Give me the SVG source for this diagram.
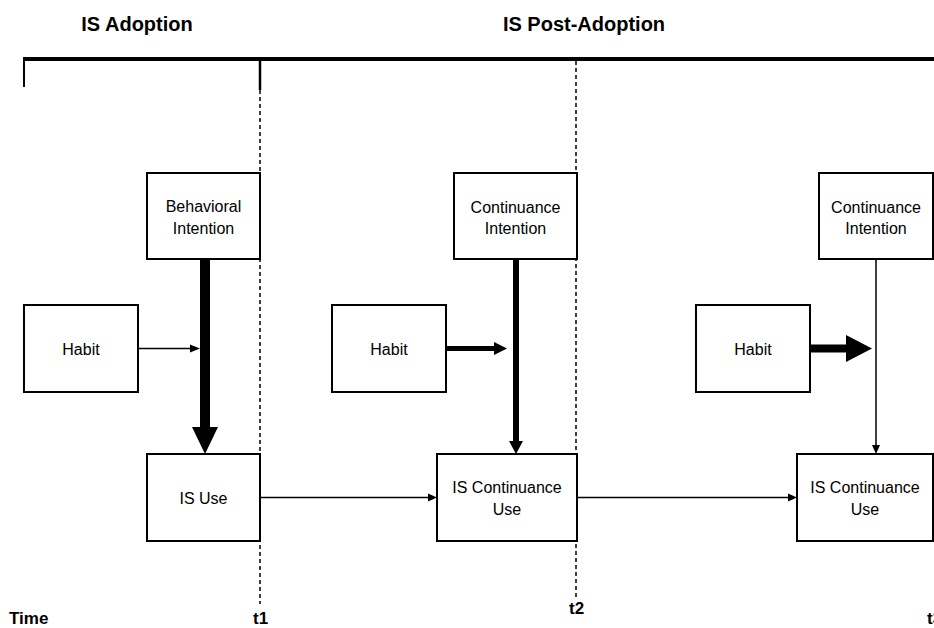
<svg xmlns="http://www.w3.org/2000/svg" width="934" height="628" viewBox="0 0 934 628">
<style>
.box{fill:#fff;stroke:#000;stroke-width:2}
.lbl{font-family:"Liberation Sans",Arial,sans-serif;font-size:16px;fill:#000;text-anchor:middle}
.ttl{font-family:"Liberation Sans",Arial,sans-serif;font-size:20px;font-weight:bold;fill:#000;text-anchor:middle}
.tm{font-family:"Liberation Sans",Arial,sans-serif;font-size:17px;font-weight:bold;fill:#000}
.dash{stroke:#000;stroke-width:1.5;stroke-dasharray:4 3;fill:none}
.thin{stroke:#000;stroke-width:1.5;fill:none}
</style>
<g id="timeline">
<text class="ttl" x="137" y="31">IS Adoption</text>
<text class="ttl" x="584" y="31">IS Post-Adoption</text>
<line x1="23" y1="59" x2="934" y2="59" stroke="#000" stroke-width="4"/>
<line x1="24" y1="59" x2="24" y2="87" stroke="#000" stroke-width="2"/>
<line x1="260" y1="59" x2="260" y2="90" stroke="#000" stroke-width="2.5"/>
<line class="dash" x1="260" y1="90" x2="260" y2="604"/>
<line class="dash" x1="576" y1="61" x2="576" y2="600"/>
<text class="tm" x="9" y="624">Time</text>
<text class="tm" x="253" y="624">t1</text>
<text class="tm" x="569" y="614">t2</text>
<text class="tm" x="927" y="624">t3</text>
</g>
<g id="connectors">
<rect x="200" y="259" width="10" height="169"/>
<polygon points="192,427 218,427 205,454"/>
<line class="thin" x1="138" y1="348.5" x2="191" y2="348.5"/>
<polygon points="190,344.5 200,348.5 190,352.5"/>
<rect x="513" y="259" width="6" height="183"/>
<polygon points="509,441 523,441 516,454"/>
<rect x="446" y="346" width="49" height="5"/>
<polygon points="494,342 507,348.5 494,355"/>
<line class="thin" x1="876" y1="259" x2="876" y2="446"/>
<polygon points="872,445 880,445 876,454"/>
<rect x="810" y="344.5" width="37" height="8"/>
<polygon points="846,335 872,348.5 846,362"/>
<line class="thin" x1="260" y1="497.5" x2="429" y2="497.5"/>
<polygon points="428,493.5 437,497.5 428,501.5"/>
<line class="thin" x1="577" y1="497.5" x2="789" y2="497.5"/>
<polygon points="788,493.5 797,497.5 788,501.5"/>
</g>
<g id="bi">
<rect class="box" x="147" y="173" width="113" height="86"/>
<text class="lbl" x="203.5" y="212">Behavioral</text>
<text class="lbl" x="203.5" y="234">Intention</text>
</g>
<g id="habit1">
<rect class="box" x="24" y="305" width="114" height="87"/>
<text class="lbl" x="81" y="355">Habit</text>
</g>
<g id="isuse">
<rect class="box" x="147" y="454" width="113" height="87"/>
<text class="lbl" x="203.5" y="504">IS Use</text>
</g>
<g id="ci2">
<rect class="box" x="454" y="173" width="123" height="86"/>
<text class="lbl" x="515.5" y="213">Continuance</text>
<text class="lbl" x="515.5" y="234">Intention</text>
</g>
<g id="habit2">
<rect class="box" x="332" y="305" width="114" height="87"/>
<text class="lbl" x="389" y="355">Habit</text>
</g>
<g id="icu2">
<rect class="box" x="437" y="454" width="140" height="87"/>
<text class="lbl" x="507" y="493">IS Continuance</text>
<text class="lbl" x="507" y="515">Use</text>
</g>
<g id="ci3">
<rect class="box" x="819" y="173" width="114" height="86"/>
<text class="lbl" x="876" y="213">Continuance</text>
<text class="lbl" x="876" y="234">Intention</text>
</g>
<g id="habit3">
<rect class="box" x="696" y="305" width="114" height="87"/>
<text class="lbl" x="753" y="355">Habit</text>
</g>
<g id="icu3">
<rect class="box" x="797" y="454" width="136" height="87"/>
<text class="lbl" x="865" y="493">IS Continuance</text>
<text class="lbl" x="865" y="515">Use</text>
</g>
</svg>
